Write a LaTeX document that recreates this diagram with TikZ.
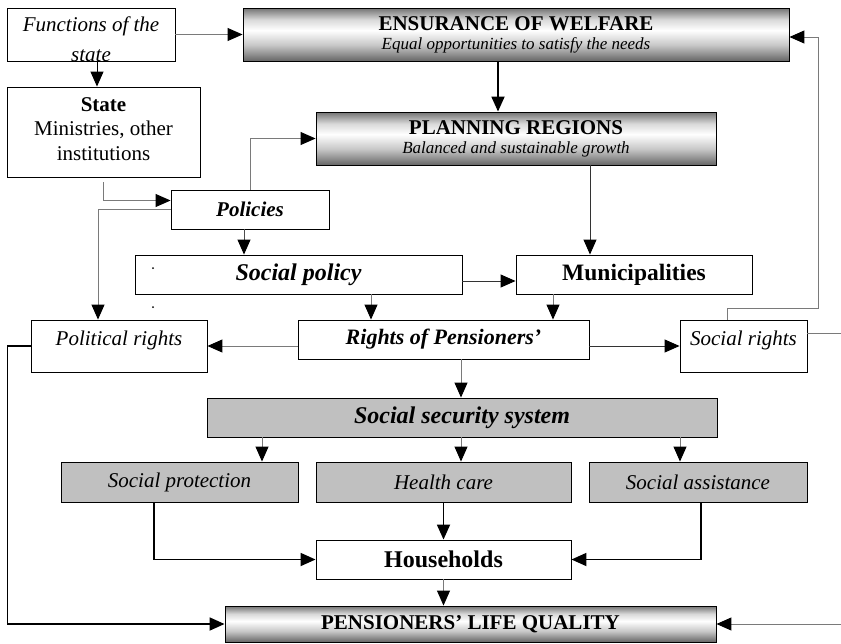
\documentclass[tikz,border=0pt]{standalone}
\usepackage{fontspec}
\setmainfont{Liberation Serif}
\usetikzlibrary{arrows.meta}
\definecolor{linkgray}{HTML}{7A7A7A}
\definecolor{boxgray}{HTML}{C0C0C0}
\pgfdeclareverticalshading{barshade}{100bp}{color(0bp)=(black!60); color(25bp)=(black!60); color(40bp)=(black!22); color(54bp)=(white); color(64bp)=(black!15); color(75bp)=(black!55); color(100bp)=(black!55)}

\begin{document}
\begin{tikzpicture}[x=1pt, y=-1pt,
  box/.style={draw=black, line width=0.9pt, fill=white, inner sep=0pt, align=center, font=\fontsize{21}{24}\selectfont},
  graybox/.style={box, fill=boxgray},
  barbox/.style={box, shading=barshade},
  link/.style={draw=linkgray, line width=1pt, -{Triangle[length=15pt, width=13pt, color=black]}},
  strong link/.style={link, draw=black, line width=1.8pt}]
\path[use as bounding box, fill=white] (0,0) rectangle (841,643);

% top row
\node[box, minimum width=168pt, minimum height=53pt] (funcs) at (91,34.5) {};
\begin{scope}
  \clip (funcs.north west) rectangle (funcs.south east);
  \node[anchor=north, align=center, inner sep=0pt, font=\itshape\fontsize{21}{29.5}\selectfont] (funcstext) at (91,17) {Functions of the\\state};
\end{scope}
\node[barbox, minimum width=546pt, minimum height=53pt, font=\fontsize{21}{19}\selectfont] (ensure) at (516,34.5)
  {\bfseries ENSURANCE OF WELFARE\\{\fontsize{17}{19}\selectfont\itshape Equal opportunities to satisfy the needs}};

% state and regions
\node[box, minimum width=193pt, minimum height=90pt] (state) at (103.5,132) {};
\node[anchor=north, align=center, inner sep=0pt, font=\fontsize{21}{24.5}\selectfont] (statetext) at (103.5,97) {\textbf{State}\\Ministries, other\\institutions};
\node[barbox, minimum width=400pt, minimum height=53pt, font=\fontsize{21}{19}\selectfont] (plan) at (516,138.5)
  {\bfseries PLANNING REGIONS\\{\fontsize{17}{19}\selectfont\itshape Balanced and sustainable growth}};

% policies
\node[box, minimum width=158pt, minimum height=39pt, font=\bfseries\itshape\fontsize{21}{24}\selectfont] (policies) at (250,209.5) {Policies};
\node[box, minimum width=327pt, minimum height=39pt, font=\bfseries\itshape\fontsize{24}{26}\selectfont] (socpol) at (298.5,274.5) {Social policy};
\node[box, minimum width=236pt, minimum height=39pt, font=\bfseries\fontsize{23.5}{26}\selectfont] (munic) at (634,274.5) {Municipalities};
\fill (153,268) circle (1pt);
\fill (153,307) circle (1pt);

% rights
\node[box, minimum width=176pt, minimum height=52pt, text height=25pt, text depth=27pt, font=\itshape\fontsize{21}{24}\selectfont] (polrights) at (119,346) {Political rights};
\node[box, minimum width=291pt, minimum height=39pt, font=\bfseries\itshape\fontsize{22}{24}\selectfont] (rights) at (443.5,339.5) {Rights of Pensioners’};
\node[box, minimum width=127pt, minimum height=52pt, text height=25pt, text depth=27pt, font=\itshape\fontsize{21}{24}\selectfont] (socrights) at (743.5,346) {Social rights};

% social security
\node[graybox, minimum width=510pt, minimum height=39pt, font=\bfseries\itshape\fontsize{24}{26}\selectfont] (secsys) at (462,417.5) {Social security system};
\node[graybox, minimum width=237pt, minimum height=40pt, font=\itshape\fontsize{21}{24}\selectfont] (protect) at (179.5,482) {Social protection};
\node[graybox, minimum width=255pt, minimum height=40pt, font=\itshape\fontsize{21}{24}\selectfont] (health) at (443.5,482) {Health care};
\node[graybox, minimum width=218pt, minimum height=40pt, font=\itshape\fontsize{21}{24}\selectfont] (assist) at (698,482) {Social assistance};

% bottom
\node[box, minimum width=255pt, minimum height=39pt, font=\bfseries\fontsize{24}{26}\selectfont] (house) at (443.5,559.5) {Households};
\node[barbox, minimum width=491pt, minimum height=36pt, font=\bfseries\fontsize{21}{24}\selectfont] (quality) at (470.5,624) {PENSIONERS’ LIFE QUALITY};

% connectors
\draw[link] (funcs.east) -- (ensure.west);
\draw[link, draw=black] ([xshift=6pt]funcs.south) -- ([xshift=6pt]funcs.south |- state.north);
\draw[strong link] ([xshift=-18pt]ensure.south) -- ([xshift=-18pt]ensure.south |- plan.north);
\draw[link] ([yshift=-5pt]state.south) |- ([yshift=9pt]policies.west);
\draw[link] (policies.north) |- (plan.west);
\draw[link] (policies.west) -| ([xshift=-21pt]polrights.north);
\draw[link, draw=black!70] ([xshift=-6pt]policies.south) -- ([xshift=-6pt]policies.south |- socpol.north);
\draw[link] ([xshift=72.5pt]socpol.south) -- ([xshift=-72.5pt]rights.north);
\draw[link, draw=black!80] ([yshift=-6.5pt]socpol.east) -- ([yshift=-6.5pt]munic.west);
\draw[link, draw=black!80] ([xshift=74pt]plan.south) -- ([xshift=-44pt]munic.north);
\draw[link] ([xshift=-81pt]munic.south) -- ([xshift=-81pt]munic.south |- rights.north);
\draw[link] ([yshift=-6.5pt]rights.west) -- (polrights.east);
\draw[link, draw=black!80] ([yshift=-6.5pt]rights.east) -- (socrights.west);
\draw[link] ([xshift=-16.5pt]socrights.north) |- ++(91,-11) |- ([yshift=-2.5pt]ensure.east);
\draw[link] ([yshift=13pt]socrights.east) -- ++(45,0) |- (quality.east);
\draw[link] ([xshift=17.5pt]rights.south) -- ([xshift=17.5pt]rights.south |- secsys.north);
\draw[link] ([xshift=82.5pt]protect.north |- secsys.south) -- ([xshift=82.5pt]protect.north);
\draw[link] ([xshift=17.5pt]health.north |- secsys.south) -- ([xshift=17.5pt]health.north);
\draw[link] ([xshift=-18pt]assist.north |- secsys.south) -- ([xshift=-18pt]assist.north);
\draw[strong link] ([xshift=-25.5pt]protect.south) |- (house.west);
\draw[strong link] (health.south) -- (house.north);
\draw[strong link] ([xshift=3pt]assist.south) |- (house.east);
\draw[link] (house.south) -- (house.south |- quality.north);
\draw[strong link] (polrights.west) -- ++(-23,0) |- (quality.west);
\end{tikzpicture}
\end{document}
